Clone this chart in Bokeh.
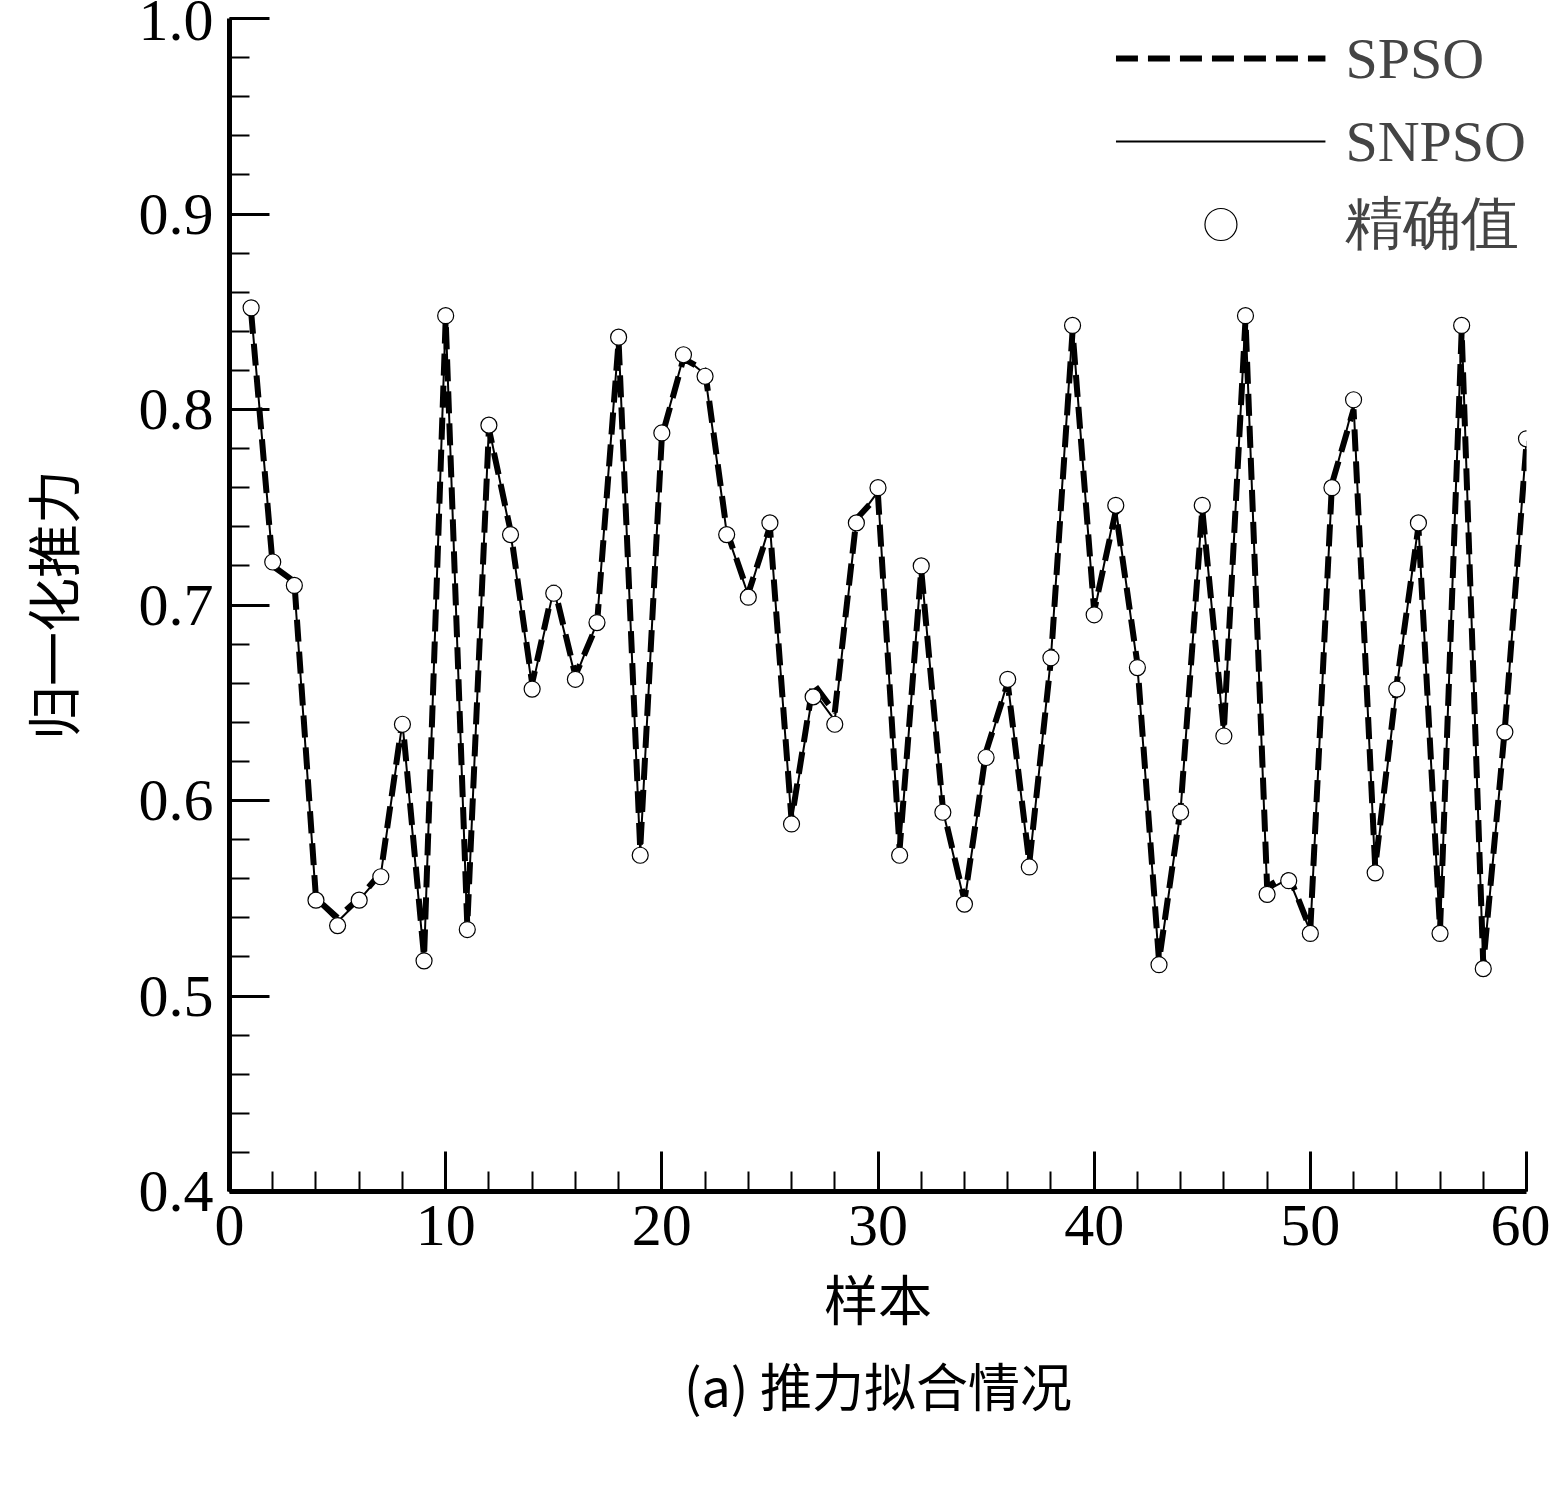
from bokeh.plotting import figure
from bokeh.models import Range1d, Title, Legend, LegendItem, FixedTicker, CustomJSTickFormatter
from bokeh.embed import file_html
from bokeh.resources import INLINE

samples = list(range(1, 61))
exact = [0.852,0.722,0.710,0.549,0.536,0.549,0.561,0.639,0.518,0.848,
         0.534,0.792,0.736,0.657,0.706,0.662,0.691,0.837,0.572,0.788,
         0.828,0.817,0.736,0.704,0.742,0.588,0.653,0.639,0.742,0.760,
         0.572,0.720,0.594,0.547,0.622,0.662,0.566,0.673,0.843,0.695,
         0.751,0.668,0.516,0.594,0.751,0.633,0.848,0.552,0.559,0.532,
         0.760,0.805,0.563,0.657,0.742,0.532,0.843,0.514,0.635,0.785]
spso = [0.850,0.720,0.712,0.550,0.540,0.550,0.563,0.641,0.520,0.846,
        0.536,0.790,0.738,0.660,0.710,0.664,0.690,0.835,0.575,0.786,
        0.826,0.820,0.738,0.706,0.740,0.590,0.660,0.645,0.744,0.756,
        0.575,0.718,0.596,0.549,0.625,0.660,0.568,0.672,0.840,0.697,
        0.748,0.670,0.518,0.596,0.749,0.636,0.846,0.556,0.562,0.534,
        0.762,0.800,0.566,0.660,0.740,0.534,0.840,0.516,0.637,0.783]
snpso = [0.851,0.721,0.710,0.549,0.538,0.549,0.562,0.640,0.519,0.847,
         0.535,0.791,0.737,0.658,0.708,0.663,0.691,0.836,0.573,0.787,
         0.827,0.818,0.737,0.705,0.741,0.589,0.656,0.641,0.743,0.758,
         0.573,0.719,0.595,0.548,0.623,0.661,0.567,0.673,0.842,0.696,
         0.750,0.669,0.517,0.595,0.750,0.634,0.847,0.554,0.560,0.533,
         0.761,0.803,0.564,0.658,0.741,0.533,0.842,0.515,0.636,0.784]

FONT = "Liberation Serif"
CJK = "Noto Sans CJK SC"

p = figure(width=1550, height=1476, output_backend="svg", toolbar_location=None,
           x_range=Range1d(0, 60), y_range=Range1d(0.4, 1.0),
           min_border_left=229, min_border_right=24, min_border_top=18, min_border_bottom=285)
p.outline_line_color = None
p.grid.visible = False
p.background_fill_color = "white"

for ax in (p.xaxis[0], p.yaxis[0]):
    ax.axis_line_width = 5
    ax.major_tick_in = 40
    ax.major_tick_out = 0
    ax.minor_tick_in = 20
    ax.minor_tick_out = 0
    ax.major_tick_line_width = 3
    ax.minor_tick_line_width = 2
    ax.major_label_text_font = FONT
    ax.major_label_text_font_size = "60px"
    ax.major_label_text_color = "black"
    ax.axis_label_text_font = CJK
    ax.axis_label_text_font_size = "54px"
    ax.axis_label_text_font_style = "normal"
    ax.axis_label_text_color = "black"

p.xaxis.ticker = FixedTicker(ticks=[0, 10, 20, 30, 40, 50, 60], minor_ticks=list(range(0, 61, 2)))
p.yaxis.ticker = FixedTicker(ticks=[0.4, 0.5, 0.6, 0.7, 0.8, 0.9, 1.0],
                             minor_ticks=[0.4 + 0.02 * i for i in range(31)])
p.yaxis.formatter = CustomJSTickFormatter(code="return tick.toFixed(1);")
p.xaxis.axis_label = "样本"
p.yaxis.axis_label = "归一化推力"
p.xaxis.major_label_standoff = 14
p.yaxis.major_label_standoff = 16
p.yaxis.axis_label_standoff = 45
p.xaxis.axis_label_standoff = 10

r1 = p.line(samples, spso, line_color="black", line_width=6, line_dash="22 10")
r2 = p.line(samples, snpso, line_color="black", line_width=2)
r3 = p.scatter(samples, exact, size=16, fill_color="white", line_color="black", line_width=1.2)

leg = Legend(items=[LegendItem(label="SPSO", renderers=[r1]),
                    LegendItem(label="SNPSO", renderers=[r2]),
                    LegendItem(label="精确值", renderers=[r3])],
             location="top_right", glyph_width=210, glyph_height=80, spacing=3,
             label_text_font=FONT, label_text_font_size="58px", label_standoff=20,
             border_line_color=None, background_fill_alpha=0, margin=0, padding=5)
p.add_layout(leg)

cap = Title(text="(a) 推力拟合情况", align="center", text_font=CJK,
            text_font_size="52px", text_font_style="normal", text_color="black")
p.add_layout(cap, "below")

open("out.html", "w").write(file_html(p, INLINE))
